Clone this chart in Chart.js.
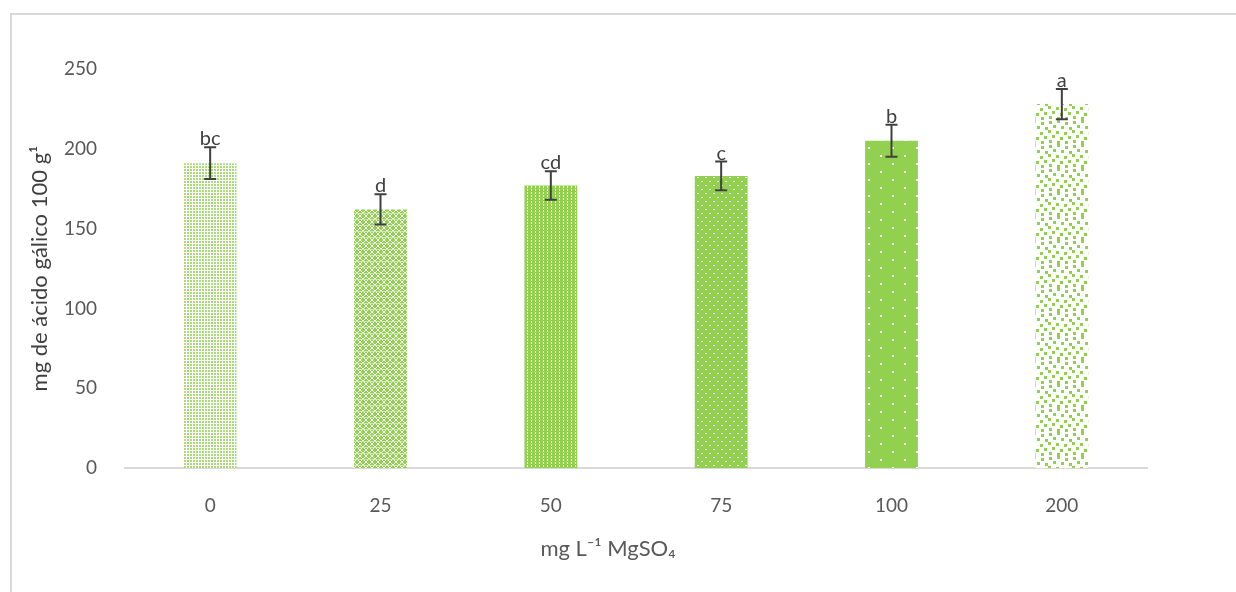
<!DOCTYPE html>
<html>
<head>
<meta charset="utf-8">
<script src="https://cdn.jsdelivr.net/npm/chart.js@4.4.1/dist/chart.umd.min.js"></script>
<style>
  html, body { margin: 0; padding: 0; background: #ffffff; overflow: hidden; }
  #frame { position: absolute; left: 10px; top: 13px; width: 1300px; height: 700px;
           border-left: 2px solid #d9d9d9; border-top: 2px solid #d9d9d9; }
  #wrap { position: absolute; left: 0; top: 0; width: 1236px; height: 592px; }
</style>
</head>
<body>
<div id="frame"></div>
<div id="wrap"><canvas id="chart" width="1236" height="592"></canvas></div>
<script>
// Dose levels of MgSO4 (mg L-1)
const categories = ['0', '25', '50', '75', '100', '200'];
// Gallic acid content, mg per 100 g
const means = [191, 162, 177, 183, 205, 228];
// Standard deviation shown as error bars
const errors = [10, 9.5, 9, 9, 10, 9.5];
// Letters from the mean comparison test
const letters = ['bc', 'd', 'cd', 'c', 'b', 'a'];
// Y axis ticks
const yTicks = [0, 50, 100, 150, 200, 250];
const xTitle = 'mg L⁻¹ MgSO₄';

const GREEN = '#92d050';
const FONT = 'Lato, "Open Sans", sans-serif';

function makePattern(w, h, painter) {
  const c = document.createElement('canvas');
  c.width = w; c.height = h;
  const g = c.getContext('2d');
  painter(g, w, h);
  return g.createPattern(c, 'repeat');
}

const patterns = [
  // fine white grid over light green
  makePattern(3, 3, (g) => {
    g.fillStyle = '#a9dc78'; g.fillRect(0, 0, 3, 3);
    g.fillStyle = '#ffffff'; g.fillRect(0, 0, 3, 1); g.fillRect(0, 0, 1, 3);
  }),
  // diagonal weave
  makePattern(6, 6, (g) => {
    g.fillStyle = GREEN; g.fillRect(0, 0, 6, 6);
    g.fillStyle = '#ffffff';
    for (let i = 0; i < 6; i++) { g.fillRect(i, i, 1, 1); g.fillRect(5 - i, i, 1, 1); }
    g.fillStyle = '#c9ebab'; g.fillRect(0, 3, 6, 1);
  }),
  // vertical dashed stripes
  makePattern(4, 3, (g) => {
    g.fillStyle = GREEN; g.fillRect(0, 0, 4, 3);
    g.fillStyle = '#ffffff'; g.fillRect(3, 0, 1, 2);
  }),
  // small staggered dots
  makePattern(8, 8, (g) => {
    g.fillStyle = GREEN; g.fillRect(0, 0, 8, 8);
    g.fillStyle = '#ffffff'; g.fillRect(1, 1, 2, 1); g.fillRect(5, 5, 2, 1);
  }),
  // sparse dots on solid green
  makePattern(24, 16, (g) => {
    g.fillStyle = GREEN; g.fillRect(0, 0, 24, 16);
    g.fillStyle = '#ffffff'; g.fillRect(4, 3, 2, 2); g.fillRect(16, 11, 2, 2);
  }),
  // green confetti on white
  makePattern(24, 24, (g) => {
    g.fillStyle = '#ffffff'; g.fillRect(0, 0, 24, 24);
    g.fillStyle = GREEN;
    [[1,0],[9,2],[17,1],[5,6],[13,7],[21,5],[0,11],[8,12],[16,10],[4,17],[12,16],[20,15],[1,21],[9,21],[17,20]]
      .forEach(([x, y]) => g.fillRect(x, y, 3, 3));
  })
];

// Error bars, significance letters and the x-axis title
const errorBarPlugin = {
  id: 'errorBars',
  afterDatasetsDraw(chart) {
    const ctx = chart.ctx;
    const meta = chart.getDatasetMeta(0);
    const y = chart.scales.y;
    ctx.save();
    meta.data.forEach((bar, i) => {
      const x = bar.x;
      const top = y.getPixelForValue(means[i] + errors[i]);
      const bot = y.getPixelForValue(means[i] - errors[i]);
      ctx.strokeStyle = '#404040';
      ctx.lineWidth = 2;
      ctx.beginPath();
      ctx.moveTo(x, top); ctx.lineTo(x, bot);
      ctx.moveTo(x - 6, top); ctx.lineTo(x + 6, top);
      ctx.moveTo(x - 6, bot); ctx.lineTo(x + 6, bot);
      ctx.stroke();
      ctx.fillStyle = '#404040';
      ctx.font = '20px ' + FONT;
      ctx.textAlign = 'center';
      ctx.textBaseline = 'alphabetic';
      ctx.fillText(letters[i], x, top - 2);
    });
    const area = chart.chartArea;
    ctx.fillStyle = '#595959';
    ctx.font = '22px ' + FONT;
    ctx.textAlign = 'center';
    ctx.textBaseline = 'middle';
    ctx.fillText(xTitle, (area.left + area.right) / 2 - 28, 549);
    ctx.restore();
  }
};

new Chart(document.getElementById('chart'), {
  type: 'bar',
  data: {
    labels: categories,
    datasets: [{
      data: means,
      backgroundColor: patterns,
      borderWidth: 0,
      barPercentage: 0.31,
      categoryPercentage: 1
    }]
  },
  options: {
    responsive: false,
    animation: false,
    events: [],
    layout: { padding: { left: 0, right: 89, top: 69, bottom: 0 } },
    plugins: { legend: { display: false }, tooltip: { enabled: false } },
    scales: {
      x: {
        grid: { display: false },
        border: { display: true, color: '#d9d9d9', width: 2 },
        ticks: { color: '#595959', font: { family: FONT, size: 19 }, padding: 18 },
        afterFit(scale) { scale.height = 124; }
      },
      y: {
        min: 0, max: 250,
        afterBuildTicks(scale) { scale.ticks = yTicks.map(v => ({ value: v })); },
        grid: { display: false },
        border: { display: false },
        ticks: { color: '#595959', font: { family: FONT, size: 19 }, padding: 20 },
        title: {
          display: true, text: 'mg de ácido gálico 100 g¹', color: '#404040',
          font: { family: FONT, size: 22 }, padding: { top: 27, bottom: 0 }
        },
        afterFit(scale) { scale.width = 125; }
      }
    }
  },
  plugins: [errorBarPlugin]
});
</script>
</body>
</html>
